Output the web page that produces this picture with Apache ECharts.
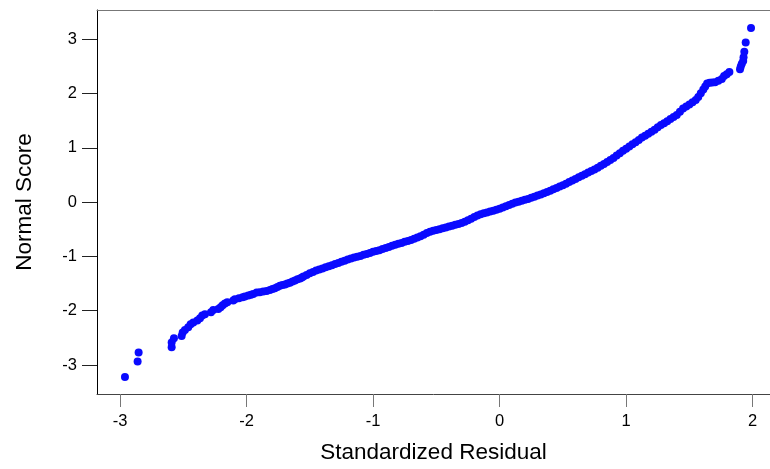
<!DOCTYPE html>
<html>
<head>
<meta charset="utf-8">
<script src="https://cdn.jsdelivr.net/npm/echarts@6/dist/echarts.min.js"></script>
<style>
html,body{margin:0;padding:0;background:#fff;}
#chart{width:770px;height:469px;}
</style>
</head>
<body>
<div id="chart"></div>
<script>
// Standardized residuals (x) and their normal scores (y)
const residuals = [
-2.961,-2.861,-2.853,-2.592,-2.592,-2.574,-2.513,-2.505,-2.487,-2.461,-2.442,-2.421,-2.389,-2.368,-2.350,-2.329,
-2.281,-2.263,-2.223,-2.205,-2.189,-2.171,-2.152,-2.105,-2.092,-2.06,-2.031,-2.013,-1.986,-1.965,-1.947,-1.920,-1.895,-1.868,-1.841,
-1.815,-1.795,-1.776,-1.756,-1.736,-1.716,-1.696,-1.677,-1.657,-1.637,-1.617,-1.597,-1.577,-1.563,
-1.55,-1.525,-1.50,-1.475,-1.45,-1.425,-1.40,-1.375,-1.35,-1.325,-1.30,-1.275,-1.25,-1.225,-1.20,-1.175,-1.15,
-1.125,-1.10,-1.075,-1.05,-1.025,-1.00,-0.975,-0.95,-0.925,-0.90,-0.875,-0.85,-0.825,-0.80,-0.775,-0.75,-0.725,
-0.70,-0.675,-0.65,-0.625,-0.60,-0.575,-0.55,-0.525,-0.50,-0.475,-0.45,-0.425,-0.40,-0.375,-0.35,-0.325,-0.30,
-0.275,-0.25,-0.225,-0.20,-0.175,-0.15,-0.125,-0.10,-0.075,-0.05,-0.025,0.00,0.025,0.05,0.075,0.10,0.125,0.15,
0.175,0.20,0.225,0.25,0.275,0.30,0.325,0.35,0.375,0.40,0.425,0.45,0.475,0.50,0.525,0.55,0.575,0.60,0.625,0.65,
0.675,0.70,0.725,0.75,0.775,0.80,0.825,0.85,0.875,0.90,0.925,0.95,0.975,1.00,1.025,1.05,1.075,1.10,1.125,1.15,
1.175,1.20,1.225,1.25,1.275,1.30,1.325,1.35,1.375,1.40,1.425,1.45,1.475,1.50,1.525,1.55,1.57,1.59,1.61,1.625,1.64,
1.66,1.68,1.703,1.729,1.756,1.774,1.795,1.816,1.900,1.906,1.914,1.925,1.928,1.934,1.945,1.987
];
const normalScores = [
-3.219,-2.937,-2.771,-2.673,-2.587,-2.507,-2.464,-2.403,-2.354,-2.304,-2.249,-2.219,-2.182,-2.139,-2.090,-2.065,
-2.028,-1.985,-1.967,-1.936,-1.899,-1.869,-1.844,-1.813,-1.789,-1.77,-1.752,-1.740,-1.721,-1.705,-1.691,-1.666,-1.658,-1.648,-1.635,
-1.617,-1.600,-1.586,-1.565,-1.540,-1.528,-1.515,-1.500,-1.484,-1.462,-1.441,-1.422,-1.404,-1.388,
-1.37,-1.34,-1.31,-1.285,-1.26,-1.24,-1.22,-1.20,-1.18,-1.16,-1.14,-1.12,-1.10,-1.08,-1.057,-1.04,-1.02,
-1.005,-0.99,-0.97,-0.955,-0.935,-0.915,-0.90,-0.885,-0.865,-0.845,-0.825,-0.805,-0.785,-0.766,-0.75,-0.73,-0.715,
-0.695,-0.676,-0.652,-0.627,-0.600,-0.57,-0.543,-0.528,-0.513,-0.497,-0.482,-0.467,-0.45,-0.435,-0.418,-0.402,-0.385,
-0.363,-0.335,-0.305,-0.275,-0.245,-0.222,-0.205,-0.19,-0.173,-0.157,-0.141,-0.12,-0.097,-0.074,-0.051,-0.028,-0.008,0.009,
0.026,0.043,0.06,0.079,0.10,0.121,0.142,0.163,0.185,0.21,0.236,0.261,0.287,0.313,0.341,0.37,0.399,0.428,0.457,0.486,
0.515,0.545,0.574,0.604,0.635,0.67,0.705,0.74,0.775,0.815,0.86,0.90,0.945,0.985,1.025,1.065,1.105,1.145,1.19,1.225,
1.26,1.295,1.335,1.38,1.42,1.455,1.49,1.53,1.57,1.606,1.665,1.725,1.76,1.80,1.84,1.88,1.935,2.005,2.075,2.13,2.185,
2.20,2.205,2.208,2.238,2.269,2.324,2.355,2.398,2.45,2.50,2.55,2.60,2.67,2.77,2.94,3.21
];
const xTicks = [-3,-2,-1,0,1,2];
const yTicks = [-3,-2,-1,0,1,2,3];

const points = residuals.map((r, i) => [r, normalScores[i]]);
const font = "'Liberation Sans', Arial, sans-serif";

const chart = echarts.init(document.getElementById('chart'), null, {renderer: 'canvas'});
chart.setOption({
  animation: false,
  backgroundColor: '#ffffff',
  grid: {left: 97, right: 0, top: 10, bottom: 75, containLabel: false},
  xAxis: [{
    type: 'value', min: -3.182, max: 2.137, position: 'bottom',
    splitLine: {show: false},
    axisLine: {show: true, onZero: false, lineStyle: {color: '#444', width: 1}},
    axisTick: {show: true, length: 13, customValues: xTicks, lineStyle: {color: '#777', width: 1}},
    axisLabel: {show: true, margin: 19, customValues: xTicks, color: '#000', fontSize: 16.5, fontFamily: font},
    name: 'Standardized Residual', nameLocation: 'middle', nameGap: 47,
    nameTextStyle: {color: '#000', fontSize: 22.5, fontFamily: font}
  }, {
    type: 'value', min: -3.182, max: 2.137, position: 'top',
    splitLine: {show: false},
    axisLine: {show: true, onZero: false, lineStyle: {color: '#777', width: 1}},
    axisTick: {show: false}, axisLabel: {show: false}
  }],
  yAxis: {
    type: 'value', min: -3.534, max: 3.54,
    splitLine: {show: false},
    axisLine: {show: true, onZero: false, lineStyle: {color: '#000', width: 1}},
    axisTick: {show: true, length: 15, customValues: yTicks, lineStyle: {color: '#222', width: 1}},
    axisLabel: {show: true, margin: 20, customValues: yTicks, color: '#000', fontSize: 16.5, fontFamily: font},
    name: 'Normal Score', nameLocation: 'middle', nameGap: 61, nameRotate: 90,
    nameTextStyle: {color: '#000', fontSize: 22.5, fontFamily: font}
  },
  series: [{
    type: 'scatter',
    xAxisIndex: 0,
    data: points,
    symbol: 'circle',
    symbolSize: 8,
    itemStyle: {color: '#0a0aff', opacity: 1},
    emphasis: {disabled: true}
  }]
});
</script>
</body>
</html>
